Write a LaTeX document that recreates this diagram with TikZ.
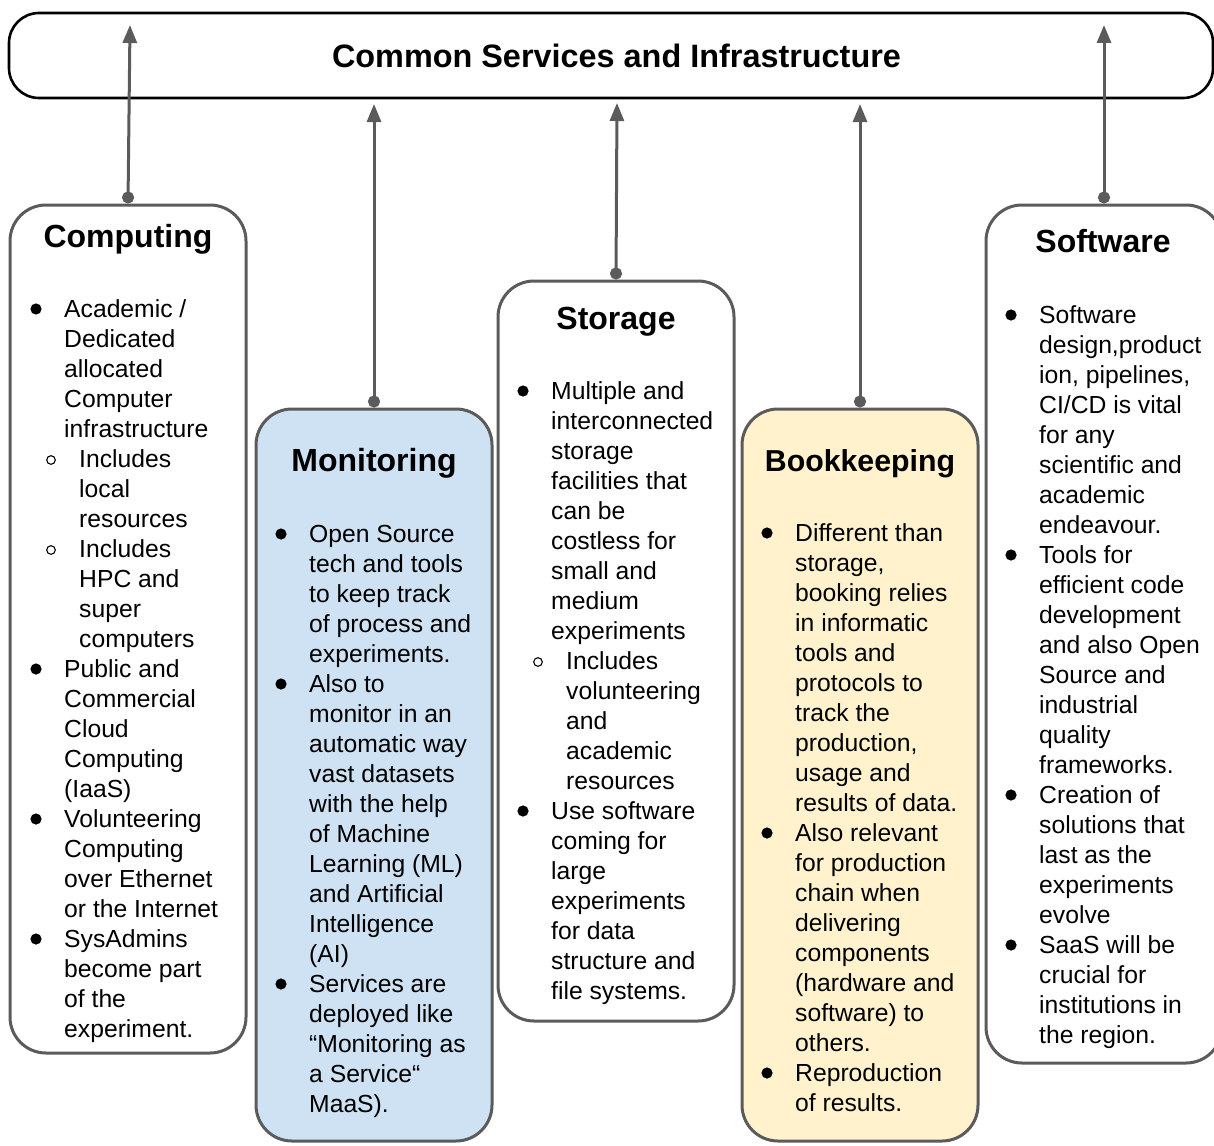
\documentclass[tikz,border=0pt]{standalone}
\usepackage{fontspec}
\setmainfont{Liberation Sans}
\usetikzlibrary{arrows.meta}
\definecolor{edge}{HTML}{5B5B5B}
\definecolor{monfill}{HTML}{CFE2F3}
\definecolor{bookfill}{HTML}{FFF2CC}
\newcommand\bodyfont{\fontsize{24.7}{30}\selectfont}
\newcommand\titlefont{\fontsize{32}{38}\selectfont\bfseries}
\newcommand\ind{\hspace*{15pt}}
\begin{document}
\begin{tikzpicture}[x=1pt,y=-1pt,
  panel/.style={draw=edge, line width=3pt, rounded corners=36pt, minimum width=236pt, inner sep=0pt},
  ttl/.style={font=\titlefont, inner sep=0pt, anchor=base},
  body/.style={font=\bodyfont, align=left, anchor=north west, inner sep=0pt},
  link/.style={draw=edge, line width=3pt, {Circle[length=12pt,width=12pt]}-{Triangle[length=18pt,width=14pt]}},
  dotb/.style={fill=black},
  ringb/.style={draw=black, line width=1.1pt},
]
\clip (0,0) rectangle (1214,1145);
\fill[white] (0,0) rectangle (1214,1145);

% top bar
\node[draw=black, line width=2.6pt, rounded corners=30pt, minimum width=1204pt, minimum height=85pt, inner sep=0pt] (bar) at (611,55.5) {};
\node[ttl, font=\fontsize{32.4}{38}\selectfont\bfseries] (bartitle) at (616.5,68) {Common Services and Infrastructure};

% panels
\node[panel, minimum height=848pt] (comp) at (128,629) {};
\node[panel, minimum height=732pt, fill=monfill] (mon) at (374,775) {};
\node[panel, minimum height=740pt] (stor) at (616,651) {};
\node[panel, minimum height=732pt, fill=bookfill] (book) at (860,775) {};
\node[panel, minimum height=858pt] (soft) at (1104,634) {};

% arrow ends
\coordinate (tcomp) at (130,25);
\coordinate (tmon) at (374,104);
\coordinate (tstor) at (617,103);
\coordinate (tbook) at (860,104);
\coordinate (tsoft) at (1104,25);

\draw[link] (comp.north) -- (tcomp);
\draw[link] (mon.north) -- (tmon);
\draw[link] (stor.north) -- (tstor);
\draw[link] (book.north) -- (tbook);
\draw[link] (soft.north) -- (tsoft);

% titles
\node[ttl] (comptitle) at (128,247) {Computing};
\node[ttl] (montitle) at (374,471) {Monitoring};
\node[ttl] (stortitle) at (616,329) {Storage};
\node[ttl, font=\fontsize{30.3}{36}\selectfont\bfseries] (booktitle) at (860,471) {Bookkeeping};
\node[ttl] (softtitle) at (1103,252) {Software};

% Computing body
\node[body] (compbody) at (64,296) {\strut Academic /\\
Dedicated\\
allocated\\
Computer\\
infrastructure\\
\ind Includes\\
\ind local\\
\ind resources\\
\ind Includes\\
\ind HPC and\\
\ind super\\
\ind computers\\
Public and\\
Commercial\\
Cloud\\
Computing\\
(IaaS)\\
Volunteering\\
Computing\\
over Ethernet\\
or the Internet\\
SysAdmins\\
become part\\
of the\\
experiment.};
\foreach \k in {0,12,17,21} \fill[dotb] (36,309+30*\k) circle (5.6pt);
\foreach \k in {5,8} \draw[ringb] (51,310+30*\k) circle (4.3pt);

% Monitoring body
\node[body] (monbody) at (309,521) {\strut Open Source\\
tech and tools\\
to keep track\\
of process and\\
experiments.\\
Also to\\
monitor in an\\
automatic way\\
vast datasets\\
with the help\\
of Machine\\
Learning (ML)\\
and Artificial\\
Intelligence\\
(AI)\\
Services are\\
deployed like\\
“Monitoring as\\
a Service“\\
MaaS).};
\foreach \k in {0,5,15} \fill[dotb] (281,534+30*\k) circle (5.6pt);

% Storage body
\node[body] (storbody) at (551,378) {\strut Multiple and\\
interconnected\\
storage\\
facilities that\\
can be\\
costless for\\
small and\\
medium\\
experiments\\
\ind Includes\\
\ind volunteering\\
\ind and\\
\ind academic\\
\ind resources\\
Use software\\
coming for\\
large\\
experiments\\
for data\\
structure and\\
file systems.};
\foreach \k in {0,14} \fill[dotb] (523,391+30*\k) circle (5.6pt);
\foreach \k in {9} \draw[ringb] (538,392+30*\k) circle (4.3pt);

% Bookkeeping body
\node[body] (bookbody) at (795,520) {\strut Different than\\
storage,\\
booking relies\\
in informatic\\
tools and\\
protocols to\\
track the\\
production,\\
usage and\\
results of data.\\
Also relevant\\
for production\\
chain when\\
delivering\\
components\\
(hardware and\\
software) to\\
others.\\
Reproduction\\
of results.};
\foreach \k in {0,10,18} \fill[dotb] (767,533+30*\k) circle (5.6pt);

% Software body
\node[body] (softbody) at (1039,302) {\strut Software\\
design,product\\
ion, pipelines,\\
CI/CD is vital\\
for any\\
scientific and\\
academic\\
endeavour.\\
Tools for\\
efficient code\\
development\\
and also Open\\
Source and\\
industrial\\
quality\\
frameworks.\\
Creation of\\
solutions that\\
last as the\\
experiments\\
evolve\\
SaaS will be\\
crucial for\\
institutions in\\
the region.};
\foreach \k in {0,8,16,21} \fill[dotb] (1011,315+30*\k) circle (5.6pt);
\end{tikzpicture}
\end{document}
